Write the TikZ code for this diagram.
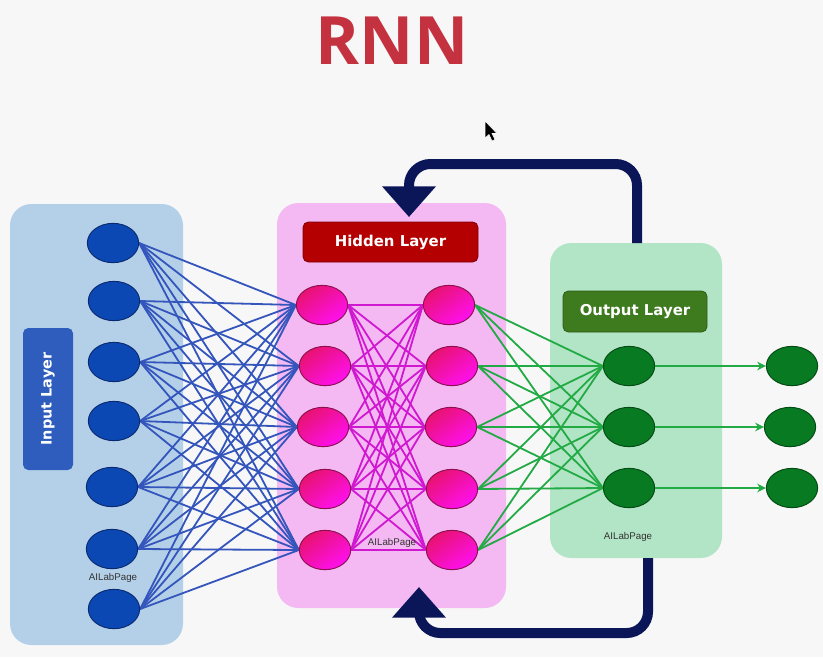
\documentclass[tikz,border=0pt]{standalone}
\usepackage{fontspec}
\setmainfont{DejaVu Sans}
\newfontfamily\titlefont{Open Sans}
\newfontfamily\smallfont{Liberation Sans}
\usetikzlibrary{shapes.geometric,arrows.meta}
\definecolor{bgc}{HTML}{F7F7F7}
\definecolor{inboxc}{HTML}{B4D0E8}
\definecolor{hidboxc}{HTML}{F4B8F2}
\definecolor{outboxc}{HTML}{B2E4C6}
\definecolor{inlabc}{HTML}{2E5DBE}
\definecolor{hidlabc}{HTML}{B40000}
\definecolor{outlabc}{HTML}{3E7A1E}
\definecolor{titlec}{HTML}{C4313F}
\definecolor{navy}{HTML}{0A1658}
\definecolor{bluee}{HTML}{3355BC}
\definecolor{pinke}{HTML}{D018D0}
\definecolor{greene}{HTML}{22AA44}
\definecolor{bdark}{HTML}{0C48B4}
\definecolor{bmid}{HTML}{3585EC}
\definecolor{bline}{HTML}{0A2A70}
\definecolor{pdark}{HTML}{E81270}
\definecolor{pmid}{HTML}{FF30B0}
\definecolor{plight}{HTML}{FF10F0}
\definecolor{pline}{HTML}{8A1050}
\definecolor{gdark}{HTML}{077A22}
\definecolor{gmid}{HTML}{2EC44E}
\definecolor{gline}{HTML}{044A14}
\pgfdeclarelayer{bg}
\pgfdeclarelayer{edges}
\pgfsetlayers{bg,edges,main}
\tikzset{
  layerbox/.style={draw=none, rounded corners=16pt, inner sep=0pt},
  labbox/.style={rounded corners=4pt, inner sep=0pt, text=white, font=\bfseries\fontsize{11.2pt}{13pt}\selectfont},
  nd/.style={ellipse, minimum width=38.5pt, minimum height=29.5pt, inner sep=0pt, line width=0.7pt},
  bnode/.style={nd, draw=bline, shading=axis, top color=bdark, middle color=bmid, bottom color=bdark, shading angle=35},
  pnode/.style={nd, draw=pline, shading=axis, top color=pdark, middle color=pmid, bottom color=plight, shading angle=35},
  gnode/.style={nd, draw=gline, shading=axis, top color=gdark, middle color=gmid, bottom color=gdark, shading angle=35},
  bedge/.style={draw=bluee, line width=1.35pt},
  pedge/.style={draw=pinke, line width=1.35pt},
  gedge/.style={draw=greene, line width=1.35pt},
  garrow/.style={draw=greene, line width=1.4pt, -{Stealth[length=6.5pt,width=6.5pt]}},
  fb/.style={draw=navy, line width=7.5pt, rounded corners=16pt, -{Triangle[width=39pt,length=23pt]}},
  wm/.style={font=\smallfont\fontsize{7.3pt}{8pt}\selectfont, text=black!80, inner sep=0pt}
}
\begin{document}
\begin{tikzpicture}[x=0.75pt,y=-0.75pt]
\useasboundingbox (0,0) rectangle (823,657);

% title
\node[text=titlec, font=\titlefont\bfseries\fontsize{50pt}{56pt}\selectfont, inner sep=0pt] (title) at (392,41) {RNN};

% layer boxes
\begin{pgfonlayer}{bg}
\fill[bgc] (0,0) rectangle (823,657);
\node[layerbox, fill=inboxc, minimum width=129.75pt, minimum height=330.75pt] (inbox) at (96.5,424.5) {};
\node[layerbox, fill=hidboxc, minimum width=171.75pt, minimum height=303.75pt] (hidbox) at (391.5,405.5) {};
\node[layerbox, fill=outboxc, minimum width=129pt, minimum height=236.25pt] (outbox) at (636,400.5) {};
\end{pgfonlayer}

% labels
\node[labbox, fill=inlabc, rotate=90, minimum width=106.5pt, minimum height=37.5pt, font=\bfseries\fontsize{10.8pt}{13pt}\selectfont] (inlab) at (48,399) {Input Layer};
\node[labbox, fill=hidlabc, draw=hidlabc!70!black, line width=0.6pt, minimum width=131.25pt, minimum height=30pt] (hidlab) at (390.5,242) {Hidden Layer};
\node[labbox, fill=outlabc, draw=outlabc!75!black, line width=0.6pt, minimum width=108pt, minimum height=30.75pt] (outlab) at (635,311.5) {Output Layer};

% input nodes
\node[bnode] (i1) at (113,243) {};
\node[bnode] (i2) at (114,301) {};
\node[bnode] (i3) at (114,362) {};
\node[bnode] (i4) at (114,421) {};
\node[bnode] (i5) at (112,487) {};
\node[bnode] (i6) at (112,549) {};
\node[bnode] (i7) at (114,609) {};

% hidden nodes
\node[pnode] (h1) at (322,305) {};
\node[pnode] (h2) at (325,366) {};
\node[pnode] (h3) at (323,427) {};
\node[pnode] (h4) at (325,489) {};
\node[pnode] (h5) at (325,550) {};
\node[pnode] (k1) at (449,305) {};
\node[pnode] (k2) at (452,366) {};
\node[pnode] (k3) at (451,427) {};
\node[pnode] (k4) at (452,489) {};
\node[pnode] (k5) at (452,550) {};

% output nodes
\node[gnode] (o1) at (629,366) {};
\node[gnode] (o2) at (629,427) {};
\node[gnode] (o3) at (629,488) {};

% final nodes
\node[gnode] (f1) at (792,366) {};
\node[gnode] (f2) at (790,427) {};
\node[gnode] (f3) at (792,488) {};

% connections
\begin{pgfonlayer}{edges}
\foreach \i in {1,...,7}{\foreach \j in {1,...,5}{\draw[bedge] (i\i.east) -- (h\j.west);}}
\foreach \i in {1,...,5}{\foreach \j in {1,...,5}{\draw[pedge] (h\i.east) -- (k\j.west);}}
\foreach \i in {1,...,5}{\foreach \j in {1,...,3}{\draw[gedge] (k\i.east) -- (o\j.west);}}
\end{pgfonlayer}
\foreach \j in {1,2,3}{\draw[garrow] (o\j.east) -- (f\j.west);}

% watermarks
\node[wm] (wm1) at (113,578) {AILabPage};
\node[wm] (wm2) at (392,543) {AILabPage};
\node[wm] (wm3) at (628,537) {AILabPage};

% feedback loops
\coordinate (fbTopStart) at (637,243);
\coordinate (fbTopEnd) at (409,217);
\coordinate (fbBotStart) at (648,558);
\coordinate (fbBotEnd) at (419,587);
\draw[fb] (fbTopStart) -- (637,164) -- (409,164) -- (fbTopEnd);
\draw[fb] (fbBotStart) -- (648,633) -- (419,633) -- (fbBotEnd);

% mouse pointer
\filldraw[fill=black, draw=white, line width=0.4pt] (485,121) -- (485,138) -- (489,134.5) -- (492,141) -- (495,139.5) -- (492,133.5) -- (497,133.5) -- cycle;
\end{tikzpicture}
\end{document}
